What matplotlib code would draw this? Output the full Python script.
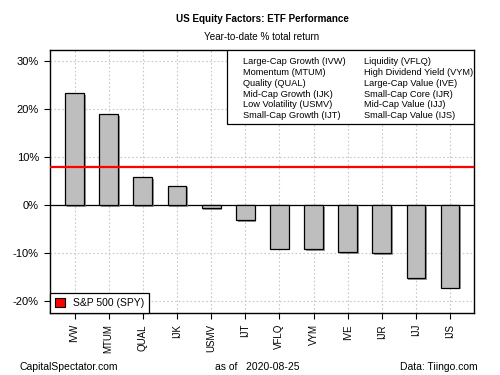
import matplotlib.pyplot as plt
import matplotlib.patheffects as pe
from matplotlib.patches import Patch, Rectangle

tickers = ["IVW", "MTUM", "QUAL", "IJK", "USMV", "IJT",
           "VFLQ", "VYM", "IVE", "IJR", "IJJ", "IJS"]
returns = [23.3, 18.9, 5.8, 4.0, -0.7, -3.2,
           -9.1, -9.2, -9.8, -10.1, -15.3, -17.2]
spy_return = 8.0
y_ticks = [-20, -10, 0, 10, 20, 30]

names_left = ["Large-Cap Growth (IVW)", "Momentum (MTUM)", "Quality (QUAL)",
              "Mid-Cap Growth (IJK)", "Low Volatility (USMV)", "Small-Cap Growth (IJT)"]
names_right = ["Liquidity (VFLQ)", "High Dividend Yield (VYM)", "Large-Cap Value (IVE)",
               "Small-Cap Core (IJR)", "Mid-Cap Value (IJJ)", "Small-Cap Value (IJS)"]

plt.rcParams['font.family'] = ['Liberation Sans', 'DejaVu Sans']

W, H = 500, 375
L, R, T, B = 50, 474, 50, 313
fig = plt.figure(figsize=(5, 3.75), dpi=100)
ax = fig.add_axes([L / W, 1 - B / H, (R - L) / W, (B - T) / H])


def ax_x(px):
    return (px - L) / (R - L)


def ax_y(py):
    return (B - py) / (B - T)


x = list(range(len(tickers)))
ax.set_axisbelow(True)
ax.grid(True, color="#c8c8c8", linestyle=(0, (1.5, 2)), linewidth=0.8)
ax.bar(x, returns, width=0.55, color="#bebebe", edgecolor="black", linewidth=0.9,
       path_effects=[pe.SimplePatchShadow(offset=(1.2, -1.2), shadow_rgbFace="#808080", alpha=0.8),
                     pe.Normal()], zorder=3)
ax.axhline(0, color="black", linewidth=0.9, zorder=2)
ax.axhline(spy_return, color="red", linewidth=1.6, zorder=4)

ax.set_xlim(-0.72, 11.7)
ax.set_ylim(-22.5, 32.3)
ax.set_xticks(x)
ax.set_xticklabels(tickers, rotation=90, fontsize=7)
ax.set_yticks(y_ticks)
ax.set_yticklabels([f"{v}%" for v in y_ticks], fontsize=8)
ax.tick_params(length=4, width=0.8, pad=4)
for s in ax.spines.values():
    s.set_linewidth(1.0)

# box of fund names (top right)
ax.add_patch(Rectangle((ax_x(227), ax_y(124)), ax_x(R) - ax_x(227), 1 - ax_y(124),
                       transform=ax.transAxes, facecolor="white", edgecolor="black",
                       linewidth=0.9, zorder=5))
for i in range(len(names_left)):
    yy = ax_y(61.7 + i * 10.8)
    ax.text(ax_x(243), yy, names_left[i], transform=ax.transAxes, fontsize=6.7,
            va="center", ha="left", zorder=6)
    ax.text(ax_x(364), yy, names_right[i], transform=ax.transAxes, fontsize=6.7,
            va="center", ha="left", zorder=6)

leg2 = ax.legend(handles=[Patch(facecolor="red", edgecolor="black", linewidth=0.8)],
                 labels=["S&P 500 (SPY)"], loc="lower left", fontsize=7.5,
                 handlelength=0.9, handleheight=0.9, borderpad=0.5,
                 fancybox=False, framealpha=1, edgecolor="black", borderaxespad=0)
leg2.get_frame().set_linewidth(0.9)
leg2.set_zorder(6)

cx = (L + R) / 2 / W
fig.text(cx, 1 - 19 / H, "US Equity Factors: ETF Performance", ha="center", va="center",
         fontsize=7.1, fontweight="bold")
fig.text(cx, 1 - 37 / H, "Year-to-date % total return", ha="center", va="center", fontsize=7.1)
fig.text(20 / W, 1 - 367 / H, "CapitalSpectator.com", ha="left", va="center", fontsize=7.5)
fig.text(215 / W, 1 - 367 / H, "as of   2020-08-25", ha="left", va="center", fontsize=7.5)
fig.text(478 / W, 1 - 367 / H, "Data: Tiingo.com", ha="right", va="center", fontsize=7.5)

fig.savefig("out.png", dpi=100)
